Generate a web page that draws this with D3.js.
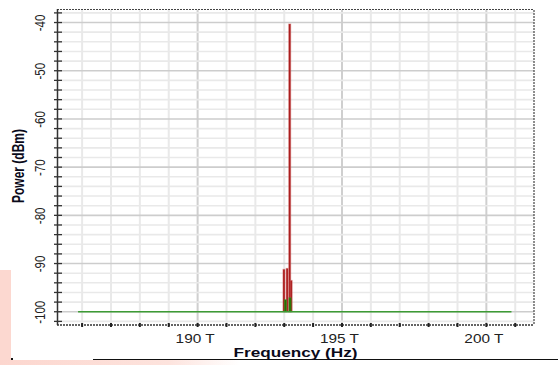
<!DOCTYPE html>
<html>
<head>
<meta charset="utf-8">
<script src="https://cdn.jsdelivr.net/npm/d3@7"></script>
<style>
  body { margin: 0; background: #fff; }
  svg { display: block; }
  text { font-family: "Liberation Sans", Arial, sans-serif; }
</style>
</head>
<body>
<svg id="chart" width="558" height="365"></svg>
<script>
// Optical spectrum analyser view: signal (red) and noise (green) power vs frequency
const signalFreqTHz = [192.99, 193.10, 193.19, 193.24];
const signalPowerDbm = [-91.2, -91.0, -40.3, -93.5];
const noiseFreqTHz = [193.04, 193.20];
const noisePowerDbm = [-97.5, -97.1];
const noiseFloorFreqTHz = [185.86, 200.87];
const noiseFloorDbm = [-100, -100];
const baselineDbm = -100;
const xTickValues = [190, 195, 200];
const xTickLabels = ["190 T", "195 T", "200 T"];
const yTickValues = [-100, -90, -80, -70, -60, -50, -40];
const yTickLabels = ["-100", "-90", "-80", "-70", "-60", "-50", "-40"];
const xTitle = "Frequency (Hz)";
const yTitle = "Power (dBm)";

const svg = d3.select("#chart");
const plot = { left: 57, right: 534, top: 10, bottom: 325 };

const x = d3.scaleLinear().domain([185.13, 201.65]).range([plot.left, plot.right]);
const y = d3.scaleLinear().domain([-102.75, -37.4]).range([plot.bottom, plot.top]);

// Background decorations of the capture window
const defs = svg.append("defs");
const grad = defs.append("linearGradient").attr("id", "pinkFade");
grad.append("stop").attr("offset", "0%").attr("stop-color", "#fcd6ce");
grad.append("stop").attr("offset", "70%").attr("stop-color", "#fde3dd");
grad.append("stop").attr("offset", "100%").attr("stop-color", "#ffffff");
svg.append("rect").attr("x", 0).attr("y", 270).attr("width", 11).attr("height", 90).attr("fill", "#fcd8d0");
svg.append("rect").attr("x", 0).attr("y", 360).attr("width", 240).attr("height", 5).attr("fill", "url(#pinkFade)");
svg.append("line").attr("x1", 93).attr("x2", 558).attr("y1", 359.5).attr("y2", 359.5)
  .attr("stroke", "#111").attr("stroke-width", 1.2);
svg.append("rect").attr("x", 11).attr("y", 358).attr("width", 2).attr("height", 2).attr("fill", "#111");

// Grid
const xMinor = d3.range(186, 202, 1);
const yMinor = d3.range(-102, -37, 2);
const grid = svg.append("g");
grid.selectAll(".vg").data(xMinor).join("line")
  .attr("x1", d => x(d)).attr("x2", d => x(d))
  .attr("y1", plot.top).attr("y2", plot.bottom)
  .attr("stroke", d => xTickValues.includes(d) ? "#cfcfcf" : "#e9e9e9")
  .attr("stroke-width", 2);
grid.selectAll(".hg").data(yMinor).join("line")
  .attr("x1", plot.left).attr("x2", plot.right)
  .attr("y1", d => y(d)).attr("y2", d => y(d))
  .attr("stroke", d => yTickValues.includes(d) ? "#cdcdcd" : "#e9e9e9")
  .attr("stroke-width", 1.6);

// Noise spikes (green) and signal lines (red), rising from the baseline
const bars = svg.append("g");
const sig = signalFreqTHz.map((f, i) => ({ f, p: signalPowerDbm[i] }));
const noi = noiseFreqTHz.map((f, i) => ({ f, p: noisePowerDbm[i] }));
bars.selectAll(".sig").data(sig).join("rect")
  .attr("x", d => x(d.f) - 1).attr("width", 2)
  .attr("y", d => y(d.p)).attr("height", d => y(baselineDbm) - y(d.p))
  .attr("fill", "#a81515")
  .attr("stroke", "rgba(210,110,110,0.5)").attr("stroke-width", 1);
bars.selectAll(".noi").data(noi).join("rect")
  .attr("x", d => x(d.f) - 1.1).attr("width", 2.2)
  .attr("y", d => y(d.p)).attr("height", d => y(baselineDbm) - y(d.p))
  .attr("fill", "#2a6f00")
  .attr("stroke", "rgba(60,150,40,0.5)").attr("stroke-width", 1);

// Noise floor
const floor = noiseFloorFreqTHz.map((f, i) => [f, noiseFloorDbm[i]]);
svg.append("path")
  .attr("d", d3.line().x(d => x(d[0])).y(d => y(d[1]))(floor))
  .attr("fill", "none").attr("stroke", "#3d9b35").attr("stroke-width", 1.5);

// Frame: dotted top and right borders
svg.append("line").attr("x1", plot.left).attr("x2", plot.right)
  .attr("y1", plot.top - 0.5).attr("y2", plot.top - 0.5)
  .attr("stroke", "#444").attr("stroke-width", 1.2).attr("stroke-dasharray", "2,1");
svg.append("line").attr("x1", plot.right).attr("x2", plot.right)
  .attr("y1", plot.top).attr("y2", plot.bottom)
  .attr("stroke", "#444").attr("stroke-width", 1.2).attr("stroke-dasharray", "2,1");

// Bottom axis: dotted line with a tick at every THz
svg.append("line").attr("x1", plot.left).attr("x2", plot.right)
  .attr("y1", plot.bottom).attr("y2", plot.bottom)
  .attr("stroke", "#333").attr("stroke-width", 1.3).attr("stroke-dasharray", "2,1");
svg.append("g").selectAll("line").data(xMinor).join("line")
  .attr("x1", d => x(d)).attr("x2", d => x(d))
  .attr("y1", plot.bottom - 2).attr("y2", plot.bottom + 2)
  .attr("stroke", "#222").attr("stroke-width", 2);

// Left axis: solid line with ticks every 2 dB
svg.append("line").attr("x1", plot.left + 0.5).attr("x2", plot.left + 0.5)
  .attr("y1", plot.top - 1).attr("y2", plot.bottom)
  .attr("stroke", "#333").attr("stroke-width", 1.5);
svg.append("g").selectAll("line").data(yMinor.filter(d => y(d) >= plot.top && y(d) <= plot.bottom)).join("line")
  .attr("x1", plot.left - 3).attr("x2", plot.left + 5)
  .attr("y1", d => y(d)).attr("y2", d => y(d))
  .attr("stroke", "#333").attr("stroke-width", 1.3);

// Tick labels
svg.append("g").selectAll("text").data(xTickValues).join("text")
  .attr("x", d => x(d) - 2.5).attr("y", 343)
  .attr("text-anchor", "middle")
  .attr("font-size", 13).attr("fill", "#222")
  .attr("textLength", 39).attr("lengthAdjust", "spacingAndGlyphs")
  .text((d, i) => xTickLabels[i]);
svg.append("g").selectAll("text").data(yTickValues).join("text")
  .attr("transform", d => `translate(44.5,${y(d) + 0.5}) scale(1.3,1) rotate(-90)`)
  .attr("text-anchor", "middle")
  .attr("font-size", 11.5).attr("fill", "#222")
  .text((d, i) => yTickLabels[i]);

// Axis titles
svg.append("text")
  .attr("x", (plot.left + plot.right) / 2).attr("y", 357)
  .attr("text-anchor", "middle")
  .attr("font-size", 12.5).attr("font-weight", "bold").attr("fill", "#0a0a1a")
  .attr("textLength", 124).attr("lengthAdjust", "spacingAndGlyphs")
  .text(xTitle);
svg.append("text")
  .attr("transform", `translate(24,166) scale(1.3,1) rotate(-90)`)
  .attr("text-anchor", "middle")
  .attr("font-size", 12).attr("font-weight", "bold").attr("fill", "#0a0a1a")
  .text(yTitle);
</script>
</body>
</html>
